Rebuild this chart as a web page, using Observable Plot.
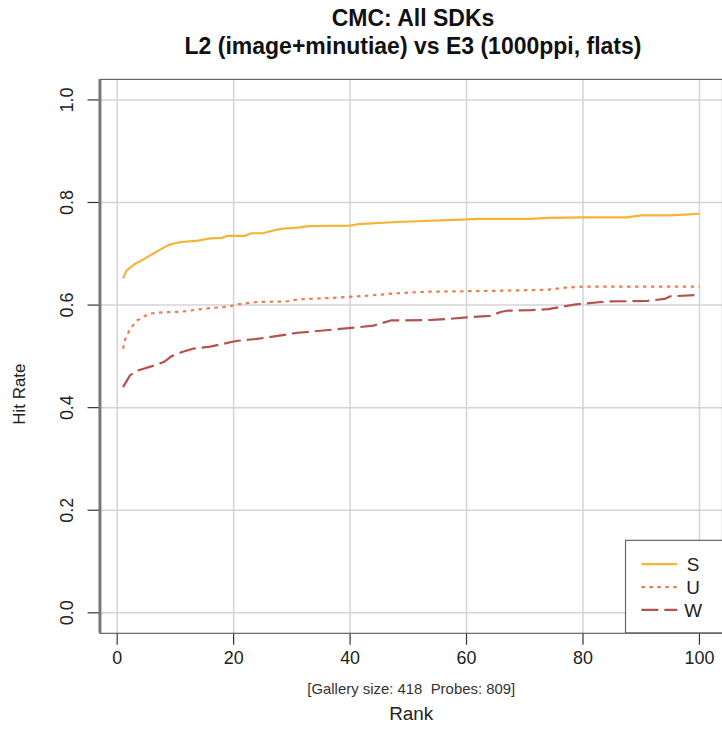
<!DOCTYPE html>
<html>
<head>
<meta charset="utf-8">
<script src="https://cdn.jsdelivr.net/npm/d3@7"></script>
<script src="https://cdn.jsdelivr.net/npm/@observablehq/plot@0.6"></script>
<style>
  html, body { margin: 0; padding: 0; background: #fff; overflow: hidden; }
  #wrap { position: relative; width: 722px; height: 730px; overflow: hidden; font-family: "Liberation Sans", Arial, sans-serif; }
  #title { position: absolute; left: 0; top: 0; width: 826px; height: 62px; text-align: center; color: #111; font-weight: bold; font-size: 23px; line-height: 28px; padding-top: 4px; box-sizing: border-box; }
  #chart { position: absolute; left: 0; top: 62px; }
</style>
</head>
<body>
<div id="wrap">
  <div id="title">CMC: All SDKs<br>L2 (image+minutiae) vs E3 (1000ppi, flats)</div>
  <div id="chart"></div>
</div>
<script>
// ---- data ----
const seriesNames = ["S", "U", "W"];
const seriesColors = ["#F6B336", "#F27B4C", "#B5524E"];
const seriesDash = [null, "3.5,4.5", "17,6"];

const rankS = [1, 1.6, 3, 4.5, 6, 8, 9, 11, 13.5, 16, 18, 19, 22, 23, 25, 27, 28.5, 31, 33, 40, 41.5, 48, 60, 62, 71, 74, 80, 87.5, 90, 95, 100];
const hitS  = [0.652, 0.667, 0.680, 0.689, 0.699, 0.712, 0.718, 0.723, 0.725, 0.730, 0.731, 0.735, 0.735, 0.740, 0.740, 0.746, 0.749, 0.751, 0.754, 0.755, 0.758, 0.762, 0.767, 0.768, 0.768, 0.770, 0.771, 0.771, 0.775, 0.775, 0.778];

const rankU = [1, 1.4, 2.2, 3.4, 4.8, 6, 8, 11, 13.6, 16, 19, 21, 24, 29, 31, 38.6, 42.6, 48, 53, 60, 66, 74, 77, 80, 100];
const hitU  = [0.515, 0.534, 0.553, 0.570, 0.579, 0.584, 0.586, 0.587, 0.591, 0.594, 0.597, 0.602, 0.606, 0.607, 0.611, 0.615, 0.618, 0.623, 0.626, 0.627, 0.628, 0.630, 0.634, 0.636, 0.636];

const rankW = [1, 2.2, 3.4, 6, 8, 9.3, 11, 13, 16, 18, 20.4, 24, 27, 31, 37, 41.5, 44, 47, 54, 57, 60, 64, 66, 67, 71, 74, 78.5, 84, 91, 94, 95, 100];
const hitW  = [0.440, 0.463, 0.472, 0.481, 0.489, 0.500, 0.508, 0.515, 0.519, 0.524, 0.530, 0.534, 0.539, 0.546, 0.552, 0.557, 0.560, 0.570, 0.571, 0.573, 0.576, 0.579, 0.587, 0.589, 0.590, 0.592, 0.601, 0.607, 0.608, 0.612, 0.617, 0.620];

const xTicks = [0, 20, 40, 60, 80, 100];
const yTicks = [0, 0.2, 0.4, 0.6, 0.8, 1.0];
const yTickLabels = ["0.0", "0.2", "0.4", "0.6", "0.8", "1.0"];
const xLabel = "Rank";
const yLabel = "Hit Rate";
const note = "[Gallery size: 418  Probes: 809]";

// ---- build tables ----
const ranks = [rankS, rankU, rankW];
const hits = [hitS, hitU, hitW];
const series = seriesNames.map((name, i) => ranks[i].map((r, j) => ({rank: r, hit: hits[i][j], name})));

const font = "Liberation Sans, Arial, sans-serif";

const lineMarks = series.map((data, i) => Plot.line(data, {
  x: "rank", y: "hit", stroke: seriesColors[i], strokeWidth: 2.2,
  strokeDasharray: seriesDash[i] || undefined, strokeLinecap: "butt", strokeLinejoin: "round"
}));

const plot = Plot.plot({
  width: 726,
  height: 668,
  marginTop: 17,
  marginBottom: 94,
  marginLeft: 100,
  marginRight: 0,
  style: {fontFamily: font, color: "#222", background: "white", overflow: "visible"},
  x: {domain: [-2.96, 103.96]},
  y: {domain: [-0.04, 1.04]},
  marks: [
    Plot.gridX(xTicks, {stroke: "#d4d4d4", strokeOpacity: 1, strokeWidth: 1.5}),
    Plot.gridY(yTicks, {stroke: "#d4d4d4", strokeOpacity: 1, strokeWidth: 1.5}),
    ...lineMarks,
    Plot.axisX(xTicks, {tickSize: 12, tickPadding: 6, fontSize: 18, label: null, stroke: "#333", strokeWidth: 1.2}),
    Plot.axisY(yTicks, {tickSize: 12, tickFormat: () => "", label: null, stroke: "#333", strokeWidth: 1.2}),
    Plot.text(yTicks, {y: d => d, text: (d, i) => yTickLabels[i], frameAnchor: "left", dx: -33, rotate: -90, textAnchor: "middle", lineAnchor: "middle", fontSize: 18, fill: "#222"}),
    Plot.frame({stroke: "#666", strokeWidth: 1.2}),
    Plot.ruleX([-2.96], {stroke: "#777", strokeWidth: 3}),
    Plot.text([xLabel], {frameAnchor: "bottom", dy: 81, lineAnchor: "middle", fontSize: 19, fill: "#222"}),
    Plot.text([note], {frameAnchor: "bottom", dy: 56, lineAnchor: "middle", fontSize: 15, fill: "#333"}),
    Plot.text([yLabel], {frameAnchor: "left", dx: -81, dy: 38, rotate: -90, textAnchor: "middle", lineAnchor: "middle", fontSize: 17, fill: "#222"})
  ]
});

// ---- legend (drawn in scale space) ----
const sx = plot.scale("x"), sy = plot.scale("y");
const svg = d3.select(plot);
const bottomPx = sy.apply(-0.04);
const boxLeft = 629, boxTop = 543 - 62;
const lg = svg.append("g").attr("font-family", font);
lg.append("rect").attr("x", boxLeft).attr("y", boxTop).attr("width", 120).attr("height", bottomPx - boxTop)
  .attr("fill", "white").attr("stroke", "#666").attr("stroke-width", 1.2);
seriesNames.forEach((name, i) => {
  const yy = boxTop + 24 + i * 23;
  lg.append("line").attr("x1", boxLeft + 16).attr("x2", boxLeft + 52).attr("y1", yy).attr("y2", yy)
    .attr("stroke", seriesColors[i]).attr("stroke-width", 2.2)
    .attr("stroke-dasharray", seriesDash[i]);
  lg.append("text").attr("x", boxLeft + 68).attr("y", yy).attr("dy", "0.35em")
    .attr("font-size", 19).attr("fill", "#222").text(name);
});

document.getElementById("chart").appendChild(plot);
</script>
</body>
</html>
